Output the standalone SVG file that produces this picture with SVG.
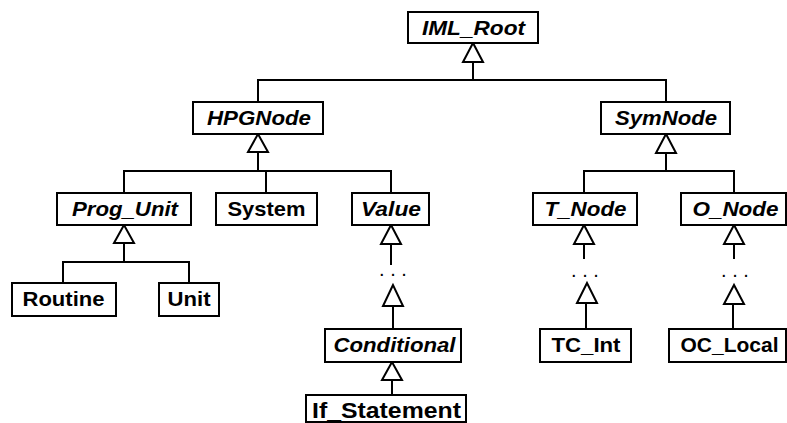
<svg xmlns="http://www.w3.org/2000/svg" width="787" height="423" viewBox="0 0 787 423">
  <style>
    .box { fill: #fff; stroke: #000; stroke-width: 2; }
    .lbl { font-family: "Liberation Sans", Arial, sans-serif; font-size: 21px; font-weight: bold; text-anchor: middle; fill: #000; }
    .abs { font-style: italic; }
    .ln { fill: none; stroke: #000; stroke-width: 2; }
    .tri { fill: #fff; stroke: #000; stroke-width: 2; stroke-linejoin: miter; }
    .dots { font-family: "Liberation Sans", Arial, sans-serif; font-size: 20px; text-anchor: middle; fill: #000; }
  </style>
  <rect width="787" height="423" fill="#fff"/>

  <!-- inheritance connectors -->
  <g id="connectors">
    <!-- IML_Root -> HPGNode, SymNode -->
    <path class="ln" d="M473 62V80M258 80H666M258 79V102M666 79V102"/>
    <polygon class="tri" points="473,43 463,62 483,62"/>
    <!-- HPGNode -> Prog_Unit, System, Value -->
    <path class="ln" d="M258 152V171M124 171H391M124 170V193M266 170V193M391 170V193"/>
    <polygon class="tri" points="258,134 248,152 268,152"/>
    <!-- SymNode -> T_Node, O_Node -->
    <path class="ln" d="M666 153V171M584 171H734M584 170V193M734 170V193"/>
    <polygon class="tri" points="666,134 656,153 676,153"/>
    <!-- Prog_Unit -> Routine, Unit -->
    <path class="ln" d="M124 243V262M63 262H189M63 261V283M189 261V283"/>
    <polygon class="tri" points="124,225 114,243 134,243"/>
    <!-- Value ... Conditional -->
    <path class="ln" d="M391 244V265M393 306V329"/>
    <polygon class="tri" points="391,225 381,244 401,244"/>
    <text class="dots" x="393" y="276">. . .</text>
    <polygon class="tri" points="393,285 383,306 403,306"/>
    <!-- Conditional -> If_Statement -->
    <path class="ln" d="M392 380V395"/>
    <polygon class="tri" points="392,362 382,380 402,380"/>
    <!-- T_Node ... TC_Int -->
    <path class="ln" d="M584 244V259M586 303V329"/>
    <polygon class="tri" points="584,225 574,244 594,244"/>
    <text class="dots" x="585" y="277">. . .</text>
    <polygon class="tri" points="587,283 577,303 597,303"/>
    <!-- O_Node ... OC_Local -->
    <path class="ln" d="M734 244V259M733 304V329"/>
    <polygon class="tri" points="734,225 724,244 744,244"/>
    <text class="dots" x="735" y="277">. . .</text>
    <polygon class="tri" points="734,285 724,304 744,304"/>
  </g>

  <!-- class nodes -->
  <g id="IML_Root">
    <rect class="box" x="408" y="12" width="130" height="31"/>
    <text class="lbl abs" x="473.5" y="34.5" textLength="103" lengthAdjust="spacingAndGlyphs">IML_Root</text>
  </g>
  <g id="HPGNode">
    <rect class="box" x="193" y="102" width="130" height="32"/>
    <text class="lbl abs" x="259" y="124.5" textLength="104" lengthAdjust="spacingAndGlyphs">HPGNode</text>
  </g>
  <g id="SymNode">
    <rect class="box" x="601" y="102" width="129" height="32"/>
    <text class="lbl abs" x="666" y="124.5" textLength="102" lengthAdjust="spacingAndGlyphs">SymNode</text>
  </g>
  <g id="Prog_Unit">
    <rect class="box" x="57" y="193" width="134" height="32"/>
    <text class="lbl abs" x="125" y="215.5" textLength="106" lengthAdjust="spacingAndGlyphs">Prog_Unit</text>
  </g>
  <g id="System">
    <rect class="box" x="216" y="193" width="101" height="32"/>
    <text class="lbl" x="266.5" y="215.5" textLength="78" lengthAdjust="spacingAndGlyphs">System</text>
  </g>
  <g id="Value">
    <rect class="box" x="352" y="193" width="77" height="32"/>
    <text class="lbl abs" x="391" y="215.5" textLength="60" lengthAdjust="spacingAndGlyphs">Value</text>
  </g>
  <g id="T_Node">
    <rect class="box" x="533" y="193" width="104" height="32"/>
    <text class="lbl abs" x="585.5" y="215.5" textLength="82" lengthAdjust="spacingAndGlyphs">T_Node</text>
  </g>
  <g id="O_Node">
    <rect class="box" x="681" y="193" width="105" height="32"/>
    <text class="lbl abs" x="735.5" y="215.5" textLength="86" lengthAdjust="spacingAndGlyphs">O_Node</text>
  </g>
  <g id="Routine">
    <rect class="box" x="12" y="283" width="104" height="33"/>
    <text class="lbl" x="63.5" y="306" textLength="82" lengthAdjust="spacingAndGlyphs">Routine</text>
  </g>
  <g id="Unit">
    <rect class="box" x="159" y="283" width="60" height="33"/>
    <text class="lbl" x="189" y="306" textLength="43" lengthAdjust="spacingAndGlyphs">Unit</text>
  </g>
  <g id="Conditional">
    <rect class="box" x="325" y="329" width="136" height="33"/>
    <text class="lbl abs" x="394.5" y="352" textLength="122" lengthAdjust="spacingAndGlyphs">Conditional</text>
  </g>
  <g id="If_Statement">
    <rect class="box" x="306" y="395" width="160" height="27"/>
    <text class="lbl" x="386.5" y="418" textLength="149" lengthAdjust="spacingAndGlyphs" style="font-size:22px">If_Statement</text>
  </g>
  <g id="TC_Int">
    <rect class="box" x="540" y="329" width="91" height="33"/>
    <text class="lbl" x="586" y="352" textLength="69" lengthAdjust="spacingAndGlyphs">TC_Int</text>
  </g>
  <g id="OC_Local">
    <rect class="box" x="669" y="329" width="117" height="33"/>
    <text class="lbl" x="729.5" y="352" textLength="98" lengthAdjust="spacingAndGlyphs">OC_Local</text>
  </g>
</svg>
